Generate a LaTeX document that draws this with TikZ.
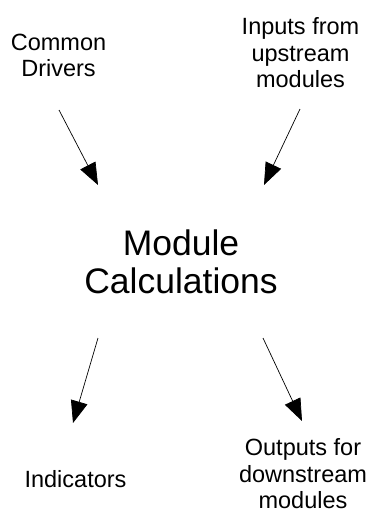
\documentclass[tikz,border=0pt]{standalone}
\usepackage{fontspec}
\setmainfont{Liberation Sans}
\usetikzlibrary{arrows.meta}
\tikzset{
  label text/.style={inner sep=0pt, align=center, anchor=base,
    font=\fontsize{23.5}{26.5}\selectfont},
  main text/.style={inner sep=0pt, align=center, anchor=base,
    font=\fontsize{35.5}{38}\selectfont},
  flow/.style={line width=0.7pt, -{Triangle[length=22pt,width=17pt]}}
}
\begin{document}
\begin{tikzpicture}[x=1pt,y=-1pt]
  \useasboundingbox (0,0) rectangle (371,512);
  % labels (anchored at the baseline of their last line)
  \node[label text] (drivers) at (58.5,76.5) {Common\\Drivers};
  \node[label text] (inputs) at (300.5,87.5) {Inputs from\\upstream\\modules};
  \node[main text] (module) at (181,293) {Module\\Calculations};
  \node[label text] (indicators) at (75.5,487) {Indicators};
  \node[label text] (outputs) at (303,508.5) {Outputs for\\downstream\\modules};
  % arrow end points
  \coordinate (d0) at (59,110);  \coordinate (d1) at (98,185);
  \coordinate (i0) at (300,109); \coordinate (i1) at (264,185);
  \coordinate (n0) at (98,338);  \coordinate (n1) at (73,423);
  \coordinate (o0) at (263,338); \coordinate (o1) at (302,421);
  % arrows
  \draw[flow] (d0) -- (d1);
  \draw[flow] (i0) -- (i1);
  \draw[flow] (n0) -- (n1);
  \draw[flow] (o0) -- (o1);
\end{tikzpicture}
\end{document}
